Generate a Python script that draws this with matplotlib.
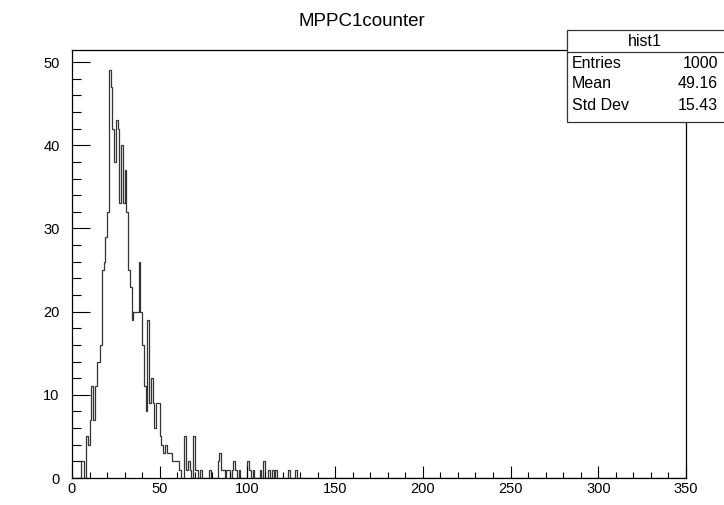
import matplotlib.pyplot as plt
import numpy as np
from matplotlib.patches import Rectangle

plt.rcParams['font.family'] = ['Liberation Sans', 'DejaVu Sans']

# histogram: 350 bins of width 1 from 0 to 350, counts from bin 5 on
n_bins = 350
x_min, x_max = 0, 350
first_bin = 5
counts_from_first = [
    2, 2, 0, 5, 4, 7, 11, 7, 11, 14, 14, 16,               # 5-16
    25, 26, 29, 32,                                         # 17-20
    49, 47, 42, 38, 43, 42, 33, 40, 33, 37, 32,             # 21-31
    25, 23, 19, 20, 20, 20, 26, 20, 16, 11, 8, 19,          # 32-43
    9, 12, 9, 6, 9, 9, 5, 4, 3, 4, 3, 3, 3, 2, 2, 2, 2, 1,  # 44-61
    0, 0, 5, 1, 2, 1, 0, 5, 1, 1, 0, 1, 0,                  # 62-74
    0, 0, 0, 1, 0, 0, 0, 0,                                 # 75-82
    2, 3, 1, 1, 0, 1, 1, 0, 1, 2, 1, 0, 1,                  # 83-95
    0, 0, 0, 0, 2, 1, 0, 1, 0, 0, 0, 1, 0, 2, 0, 0,         # 96-111
    1, 0, 1, 0, 1, 0, 0, 0, 0, 0, 0, 1, 0, 0, 0, 1,         # 112-127
]

title = "MPPC1counter"
stats_name = "hist1"
stats_rows = [("Entries", "1000"), ("Mean", "49.16"), ("Std Dev", "15.43")]

counts = np.zeros(n_bins)
counts[first_bin:first_bin + len(counts_from_first)] = counts_from_first
edges = np.linspace(x_min, x_max, n_bins + 1)

W, H = 724, 505
fig = plt.figure(figsize=(W / 100, H / 100), dpi=100)
ax = fig.add_axes([72 / W, (H - 478) / H, (686 - 72) / W, (478 - 50) / H])

ax.stairs(counts, edges, color='#333333', linewidth=0.9)
ax.set_xlim(x_min, x_max)
ax.set_ylim(0, counts.max() * 1.05)

ax.set_xticks(np.arange(0, 351, 50))
ax.set_xticks(np.arange(0, 351, 10), minor=True)
ax.set_yticks(np.arange(0, 51, 10))
ax.set_yticks(np.arange(0, 51, 2), minor=True)
ax.tick_params(axis='both', which='both', direction='in', top=False, right=False,
               labelsize=10.5, color='black', width=0.8)
ax.tick_params(axis='y', which='major', length=13, pad=9)
ax.tick_params(axis='y', which='minor', length=6.5)
ax.tick_params(axis='x', which='major', length=9, pad=3)
ax.tick_params(axis='x', which='minor', length=4.5)
for s in ax.spines.values():
    s.set_linewidth(0.9)

fig.text(362 / W, 1 - 22 / H, title, ha='center', va='center', fontsize=13.5)

# stats box
bx0, bx1, by0, by1, hdr = 567, 740, 30, 122, 52
fig.patches.append(Rectangle((bx0 / W, 1 - by1 / H), (bx1 - bx0) / W, (by1 - by0) / H,
                             transform=fig.transFigure, facecolor='white',
                             edgecolor='#333333', linewidth=0.9, zorder=5))
fig.lines.append(plt.Line2D([bx0 / W, bx1 / W], [1 - hdr / H, 1 - hdr / H],
                            transform=fig.transFigure, color='#333333', linewidth=0.9, zorder=6))
fig.text(645 / W, 1 - 41 / H, stats_name, ha='center', va='center', fontsize=11.5, zorder=7)
for i, (name, val) in enumerate(stats_rows):
    y = 1 - (63 + 21 * i) / H
    fig.text(572 / W, y, name, ha='left', va='center', fontsize=11.5, zorder=7)
    fig.text(718 / W, y, val, ha='right', va='center', fontsize=11.5, zorder=7)

fig.savefig('out.png', dpi=100)
